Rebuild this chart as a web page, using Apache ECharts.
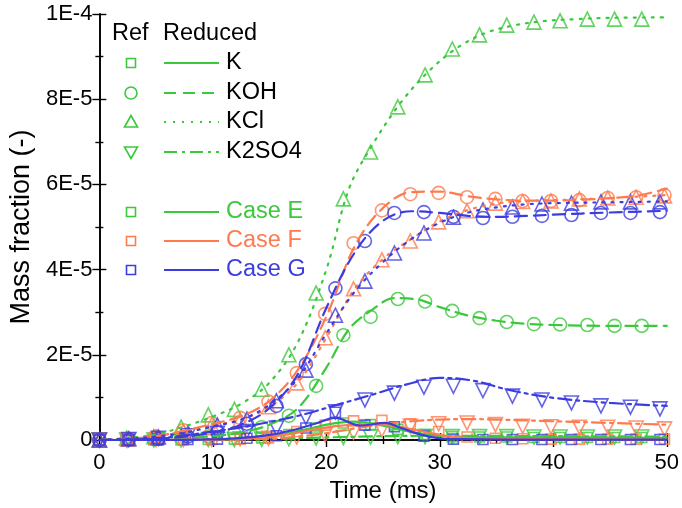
<!DOCTYPE html>
<html>
<head>
<meta charset="utf-8">
<script src="https://cdn.jsdelivr.net/npm/echarts@6/dist/echarts.min.js"></script>
<style>
html,body{margin:0;padding:0;background:#fff;}
#c{width:682px;height:508px;}
</style>
</head>
<body>
<div id="c"></div>
<script>
// ---- DATA (mass fraction in units of 1E-6, time in ms) ----
const xTicks = [0, 10, 20, 30, 40, 50];
const yTickLabels = {0: '0', 20: '2E-5', 40: '4E-5', 60: '6E-5', 80: '8E-5', 100: '1E-4'};
const species = ['K', 'KOH', 'KCl', 'K2SO4'];
const cases = ['Case E', 'Case F', 'Case G'];

// Reference (markers) sampling times per case
const tE = [0,2.4,4.8,7.2,9.6,11.9,14.3,16.7,19.1,21.5,23.9,26.3,28.7,31.1,33.5,35.9,38.3,40.6,43.0,45.4,47.8];
const tF = [0,2.5,5.0,7.4,9.9,12.4,14.9,17.4,19.9,22.4,24.9,27.4,29.9,32.4,34.9,37.3,39.8,42.3,44.8,47.3,49.8];
const tG = [0,2.6,5.2,7.8,10.4,13.0,15.6,18.2,20.8,23.4,26.0,28.6,31.2,33.8,36.4,39.0,41.6,44.2,46.8,49.4];

// Reference values (markers)
const refE_K     = [0,0,0,0,0.1,0.2,0.5,1.3,2.8,4.0,3.6,2.5,1.3,0.8,0.7,0.7,0.6,0.6,0.6,0.6,0.6];
const refE_KOH   = [0,0.1,0.2,0.4,0.8,1.5,3.0,5.7,12.7,24.6,28.9,33.1,32.5,30.3,28.6,27.7,27.2,27.1,27.0,26.8,26.8];
const refE_KCl   = [0,0.4,0.8,3.0,5.9,7.2,11.9,20.0,34.5,56.6,67.6,78.2,85.7,91.8,95.1,97.4,98.1,98.4,98.8,98.8,98.8];
const refE_K2SO4 = [0,0,0,0,0.1,0.1,0.2,0.3,0.5,0.6,0.7,0.8,0.8,0.8,0.8,0.8,0.7,0.7,0.7,0.7,0.7];

const refF_K     = [0,0,0,0,0.1,0.2,0.5,2.0,3.5,4.5,4.6,3.8,2.0,0.7,0.4,0.3,0.2,0.2,0.2,0.2,0.2];
const refF_KOH   = [0,0.3,0.8,2.3,4.0,5.2,9.0,15.7,29.6,46.2,53.9,57.7,58.0,57.0,56.6,56.1,56.1,56.3,56.8,57.0,57.5];
const refF_KCl   = [0,0.2,0.7,2.0,3.6,4.7,7.8,13.4,24.0,35.5,42.3,46.7,51.2,53.8,55.6,56.0,56.1,56.6,56.8,57.0,57.3];
const refF_K2SO4 = [0,0,0.1,0.1,0.2,0.3,0.4,0.7,1.2,1.8,2.4,3.2,3.8,4.0,3.6,3.2,3.1,3.0,3.0,2.8,2.6];

const refG_K     = [0,0,0,0.1,0.2,0.4,1.0,2.8,6.5,3.5,3.1,0.9,0.2,0.1,0.1,0.1,0.1,0.1,0.1,0.1];
const refG_KOH   = [0,0.1,0.3,0.8,1.8,3.8,8.0,17.8,35.6,46.7,53.3,53.5,52.4,52.1,52.4,52.6,52.8,53.3,53.3,53.5];
const refG_KCl   = [0,0.3,0.7,1.6,3.5,4.9,9.2,16.4,29.3,37.3,43.9,48.6,52.3,54.0,54.7,55.4,55.6,55.9,55.9,55.9];
const refG_K2SO4 = [0,0.1,0.4,1.0,1.6,2.0,2.8,5.3,6.6,9.4,11.0,12.4,12.6,11.6,10.3,9.4,8.7,8.0,7.7,7.3];

// Reduced mechanism values (lines), [time, value]
const redE_K     = [[0,0],[10,0.1],[14,0.6],[17,1.8],[19,3.0],[21,4.0],[22.5,4.3],[24,3.9],[26,2.8],[28,1.6],[30,1.0],[33,0.7],[40,0.6],[50,0.5]];
const redE_KOH   = [[0,0],[5,0.2],[10,0.9],[12.5,1.8],[15,3.6],[17.5,7.5],[20,17],[22,26],[24,30.5],[26,33.3],[28,33.0],[30,31.2],[32.5,29.2],[35,28],[37.5,27.3],[40,27.0],[45,26.8],[50,26.8]];
const redE_KCl   = [[0,0],[2.5,0.5],[5,1.3],[7.5,3.2],[10,5.5],[12.5,8.5],[15,13.5],[17.5,23],[20,40],[22,59],[24,69],[26.5,79],[29,86.5],[31.5,92],[34,95.5],[36.5,97.3],[39,98.3],[42,98.8],[45,99.1],[50,99.2]];
const redE_K2SO4 = [[0,0],[10,0.1],[15,0.3],[20,0.6],[25,0.9],[30,1.0],[40,0.9],[50,0.8]];

const redF_K     = [[0,0],[10,0.1],[14,0.5],[17,1.5],[19,2.5],[21,3.3],[23,3.7],[25,3.6],[27,2.8],[29,1.7],[31,0.8],[33,0.4],[38,0.2],[50,0.1]];
const redF_KOH   = [[0,0],[2.5,0.3],[5,0.9],[7.5,2.2],[10,3.8],[12.5,5.6],[15,9.2],[17.5,16.5],[20,29],[22.5,45.5],[25,54.5],[27.5,58.2],[30,58.3],[32.5,57.2],[35,56.5],[37.5,56.2],[40,56.2],[42.5,56.4],[45,56.8],[47.5,57.4],[50,59]];
const redF_KCl   = [[0,0],[5,0.8],[10,3.5],[12.5,4.8],[15,7.8],[17.5,13.5],[20,24],[22.5,35.5],[25,42.5],[27.5,47.2],[30,51.3],[32.5,54],[35,55.5],[37.5,56.1],[40,56.3],[45,56.8],[50,57.5]];
const redF_K2SO4 = [[0,0],[10,0.1],[15,0.3],[17.5,0.8],[20,1.6],[22.5,2.7],[25,3.7],[27.5,4.4],[30,4.8],[32.5,4.9],[35,4.8],[40,4.4],[45,4.0],[50,3.6]];

const redG_K     = [[0,0],[6,0],[9,0.1],[12,0.4],[15,1.2],[17,2.3],[19,3.8],[20.8,5.2],[23,3.4],[25.2,4.0],[26.6,2.8],[28.4,1.2],[30,0.4],[32,0.2],[36,0.1],[50,0.1]];
const redG_KOH   = [[0,0],[5,0.3],[7.5,0.8],[10,1.8],[12.5,3.6],[15,7.5],[17.5,15.5],[20,31],[22.5,44],[25,51.5],[27.5,53.7],[30,53.3],[32.5,52.6],[35,52.4],[37.5,52.6],[40,52.9],[45,53.4],[50,53.8]];
const redG_KCl   = [[0,0],[2.5,0.3],[5,0.8],[7.5,1.7],[10,3.2],[12.5,4.8],[15,8.3],[17.5,14.5],[20,25],[22.5,34.8],[25,41.8],[27.5,47.2],[30,51],[32.5,53.4],[35,54.6],[37.5,55.3],[40,55.6],[45,55.8],[50,56]];
const redG_K2SO4 = [[0,0],[4,0.2],[7,0.9],[10,2.0],[13,3.2],[16,4.8],[18,6.0],[21,8.3],[24,10.6],[27,13.0],[30,14.6],[33,13.9],[36,11.8],[40,9.9],[45,8.7],[50,8.0]];

// ---- STYLE ----
const FONT = 'Liberation Sans, Arial, Helvetica, sans-serif';
const caseColor = {'Case E': '#3cc83c', 'Case F': '#ff7a4e', 'Case G': '#3c3ce0'};
const sym = {K: ['rect', 10, 0], KOH: ['circle', 13, 0], KCl: ['triangle', 14, 0], K2SO4: ['triangle', 14, 180]};
const dash = {K: 'solid', KOH: [12, 7], KCl: [2, 7], K2SO4: [13, 5, 3, 5]};

const refData = {
  'Case E': {t: tE, K: refE_K, KOH: refE_KOH, KCl: refE_KCl, K2SO4: refE_K2SO4},
  'Case F': {t: tF, K: refF_K, KOH: refF_KOH, KCl: refF_KCl, K2SO4: refF_K2SO4},
  'Case G': {t: tG, K: refG_K, KOH: refG_KOH, KCl: refG_KCl, K2SO4: refG_K2SO4}
};
const redData = {
  'Case E': {K: redE_K, KOH: redE_KOH, KCl: redE_KCl, K2SO4: redE_K2SO4},
  'Case F': {K: redF_K, KOH: redF_KOH, KCl: redF_KCl, K2SO4: redF_K2SO4},
  'Case G': {K: redG_K, KOH: redG_KOH, KCl: redG_KCl, K2SO4: redG_K2SO4}
};

const series = [];
cases.forEach(cs => {
  const col = caseColor[cs];
  species.forEach(sp => {
    series.push({
      type: 'line', name: cs + ' ' + sp + ' reduced', data: redData[cs][sp],
      showSymbol: false, smooth: 0.35, clip: true, silent: true,
      lineStyle: {color: col, width: 2.2, type: dash[sp], cap: 'round'}
    });
  });
  species.forEach(sp => {
    const r = refData[cs];
    series.push({
      type: 'scatter', name: cs + ' ' + sp + ' ref',
      data: r.t.map((t, i) => [t, r[sp][i]]),
      symbol: sym[sp][0], symbolSize: sym[sp][1], symbolRotate: sym[sp][2],
      clip: false, silent: true,
      itemStyle: {color: 'rgba(0,0,0,0)', borderColor: col, borderWidth: 1.6}
    });
  });
});

// ---- LEGEND (graphic) ----
const green = caseColor['Case E'];
const gEls = [];
const LX = 131, L1 = 164, L2 = 219, TX = 226;
function txt(x, y, s, fill, align) {
  gEls.push({type: 'text', x: x, y: y, z: 100, style: {text: s, fill: fill, font: '23.5px ' + FONT, textAlign: align || 'left', textVerticalAlign: 'middle'}});
}
function seg(y, col, d) {
  gEls.push({type: 'line', z: 100, shape: {x1: L1, y1: y, x2: L2, y2: y}, style: {stroke: col, lineWidth: 2.2, lineDash: d === 'solid' ? null : d}});
}
function marker(kind, y, col) {
  const st = {fill: 'none', stroke: col, lineWidth: 1.6};
  if (kind === 'K') gEls.push({type: 'rect', z: 100, shape: {x: LX - 4.5, y: y - 4.5, width: 9, height: 9}, style: st});
  if (kind === 'KOH') gEls.push({type: 'circle', z: 100, shape: {cx: LX, cy: y, r: 6}, style: st});
  if (kind === 'KCl') gEls.push({type: 'polygon', z: 100, shape: {points: [[LX, y - 6.5], [LX + 6.5, y + 5], [LX - 6.5, y + 5]]}, style: st});
  if (kind === 'K2SO4') gEls.push({type: 'polygon', z: 100, shape: {points: [[LX, y + 6.5], [LX + 6.5, y - 5], [LX - 6.5, y - 5]]}, style: st});
}
txt(112, 34, 'Ref', '#000');
txt(163, 34, 'Reduced', '#000');
const rowsY = [63, 93, 122, 152];
species.forEach((sp, i) => {
  marker(sp, rowsY[i], green);
  seg(rowsY[i], green, dash[sp]);
  txt(TX, rowsY[i], sp, '#000');
});
const caseY = [212, 241, 270];
cases.forEach((cs, i) => {
  marker('K', caseY[i], caseColor[cs]);
  seg(caseY[i], caseColor[cs], 'solid');
  txt(TX, caseY[i], cs, caseColor[cs]);
});

// ---- AXES ----
const axLine = {show: true, lineStyle: {color: '#000', width: 1.6}};
const xCommon = {
  type: 'value', min: xTicks[0], max: xTicks[xTicks.length - 1], interval: 10,
  axisLine: axLine, splitLine: {show: false},
  axisTick: {show: true, inside: true, length: 7, lineStyle: {color: '#000', width: 1.4}},
  minorTick: {show: true, splitNumber: 2, length: 4, lineStyle: {color: '#000', width: 1.4}}
};
const yCommon = {
  type: 'value', min: 0, max: 100, interval: 20,
  axisLine: axLine, splitLine: {show: false},
  axisTick: {show: true, inside: true, length: 7, lineStyle: {color: '#000', width: 1.4}},
  minorTick: {show: true, splitNumber: 2, length: 4, lineStyle: {color: '#000', width: 1.4}}
};

const option = {
  animation: false,
  backgroundColor: '#fff',
  textStyle: {fontFamily: FONT},
  grid: {left: 97, right: 10, top: 14, bottom: 68},
  xAxis: [
    Object.assign({}, xCommon, {
      position: 'bottom', name: 'Time (ms)', nameLocation: 'middle', nameGap: 38,
      nameTextStyle: {fontSize: 24, color: '#000', fontFamily: FONT},
      axisLabel: {fontSize: 22, color: '#000', margin: 12, fontFamily: FONT}
    }),
    Object.assign({}, xCommon, {position: 'top', axisLabel: {show: false}})
  ],
  yAxis: [
    Object.assign({}, yCommon, {
      position: 'left', name: 'Mass fraction (-)', nameLocation: 'middle', nameGap: 47,
      nameRotate: 90,
      nameTextStyle: {fontSize: 27, color: '#000', fontFamily: FONT},
      axisLabel: {fontSize: 22, color: '#000', margin: 7, fontFamily: FONT,
        formatter: v => (yTickLabels[v] !== undefined ? yTickLabels[v] : '')}
    }),
    Object.assign({}, yCommon, {position: 'right', axisLabel: {show: false}})
  ],
  graphic: {elements: gEls},
  series: series
};

const chart = echarts.init(document.getElementById('c'), null, {renderer: 'canvas'});
chart.setOption(option);
</script>
</body>
</html>
